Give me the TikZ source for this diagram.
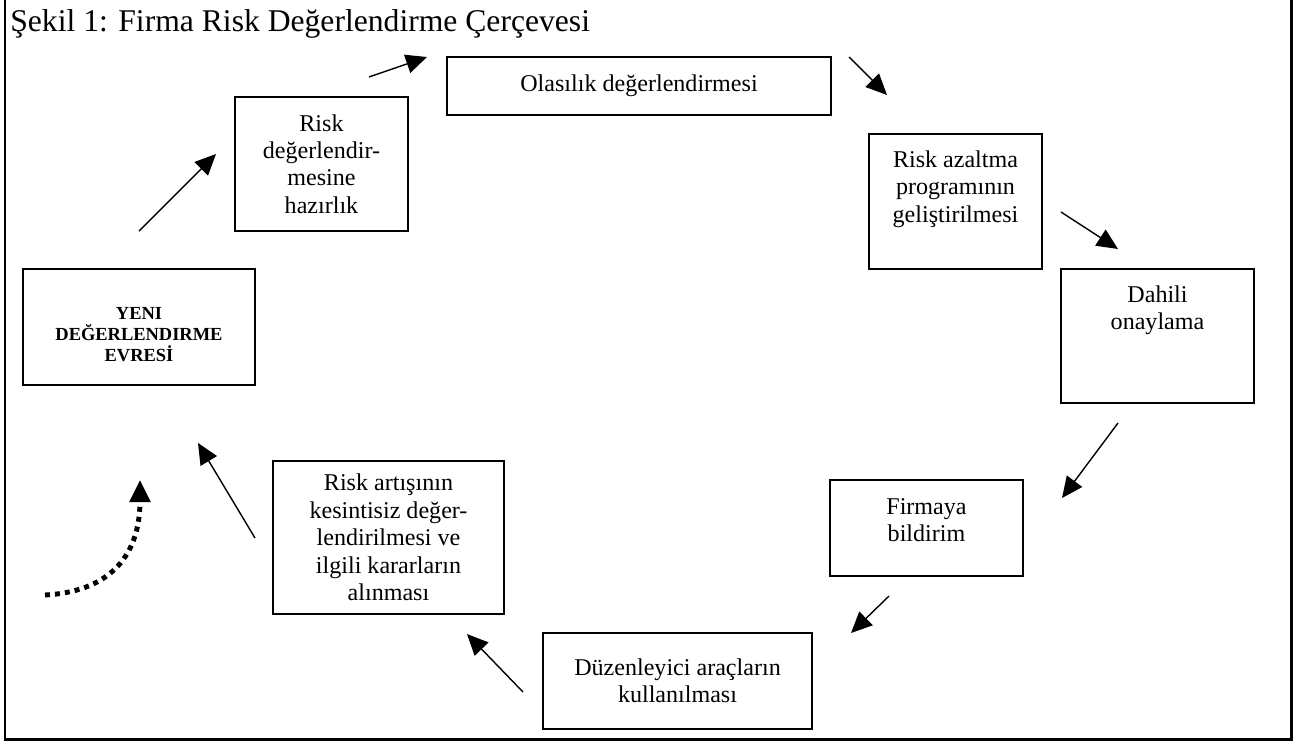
\documentclass[tikz,border=0pt]{standalone}
\usepackage{fontspec}
\setmainfont{Liberation Serif}
\usetikzlibrary{arrows.meta}

\newcommand{\boxfont}{\fontsize{13.7pt}{15.6pt}\selectfont}
\newcommand{\lowpad}[1]{\rule[-#1]{0pt}{0pt}}

\tikzset{
	box/.style={draw, line width=1pt, inner sep=0pt, align=center, font=\boxfont},
	flow/.style={line width=0.8pt, -{Triangle[length=0.42cm,width=0.38cm]}},
	loopback/.style={line width=2.8pt, dash pattern=on 0.1cm off 0.1cm, -{Triangle[length=0.44cm,width=0.4cm]}}
}

\begin{document}
\begin{tikzpicture}[x=0.02cm, y=-0.02cm]
	\useasboundingbox (0,0) rectangle (1300,744);
	\draw[line width=1.7pt] (5,0) -- (5,739) -- (1291,739) -- (1291,0);
	\node[anchor=base west, font=\fontsize{18pt}{21pt}\selectfont, inner sep=0pt] (title) at (10,31) {Şekil 1: Firma Risk Değerlendirme Çerçevesi};

	% kutular
	\node[box, minimum width=7.68cm, minimum height=1.16cm] (olas) at (639,86) {Olasılık değerlendirmesi};
	\node[box, minimum width=3.46cm, minimum height=2.68cm] (hazir) at (321.5,164) {Risk\\değerlendir-\\mesine\\hazırlık};
	\node[box, minimum width=3.46cm, minimum height=2.70cm] (azalt) at (955.5,201.5) {Risk azaltma\\programının\\geliştirilmesi\lowpad{0.6cm}};
	\node[box, minimum width=3.86cm, minimum height=2.68cm] (dahili) at (1157.5,336) {Dahili\\onaylama\lowpad{1.14cm}};
	\node[box, minimum width=4.64cm, minimum height=2.32cm, font=\fontsize{10.5pt}{11.95pt}\selectfont\bfseries] (yeni) at (139,327) {\rule{0pt}{0.54cm}YENI\\DEĞERLENDIRME\\EVRESİ};
	\node[box, minimum width=3.86cm, minimum height=1.92cm] (firma) at (926.5,528) {Firmaya\\bildirim\lowpad{0.32cm}};
	\node[box, minimum width=5.38cm, minimum height=1.92cm] (duzen) at (677.5,681) {Düzenleyici araçların\\kullanılması};
	\node[box, minimum width=4.62cm, minimum height=3.06cm] (artis) at (388.5,537.5) {Risk artışının\\kesintisiz değer-\\lendirilmesi ve\\ilgili kararların\\alınması};

	% ok uclari
	\coordinate (y2h-a) at (139,231); \coordinate (y2h-b) at (216,154);
	\coordinate (h2o-a) at (369,77); \coordinate (h2o-b) at (427,57);
	\coordinate (o2a-a) at (849,57); \coordinate (o2a-b) at (887,95);
	\coordinate (a2d-a) at (1061,212); \coordinate (a2d-b) at (1118,249);
	\coordinate (d2f-a) at (1118,423); \coordinate (d2f-b) at (1062,498);
	\coordinate (f2z-a) at (889,596); \coordinate (f2z-b) at (851,633);
	\coordinate (z2r-a) at (523,692); \coordinate (z2r-b) at (467,634);
	\coordinate (r2y-a) at (255,538); \coordinate (r2y-b) at (198,443);
	\coordinate (back-a) at (45,595); \coordinate (back-b) at (140,480);

	\draw[flow] (y2h-a) -- (y2h-b);
	\draw[flow] (h2o-a) -- (h2o-b);
	\draw[flow] (o2a-a) -- (o2a-b);
	\draw[flow] (a2d-a) -- (a2d-b);
	\draw[flow] (d2f-a) -- (d2f-b);
	\draw[flow] (f2z-a) -- (f2z-b);
	\draw[flow] (z2r-a) -- (z2r-b);
	\draw[flow] (r2y-a) -- (r2y-b);
	\draw[loopback] (back-a) .. controls (105,592) and (140,560) .. (back-b);
\end{tikzpicture}
\end{document}
